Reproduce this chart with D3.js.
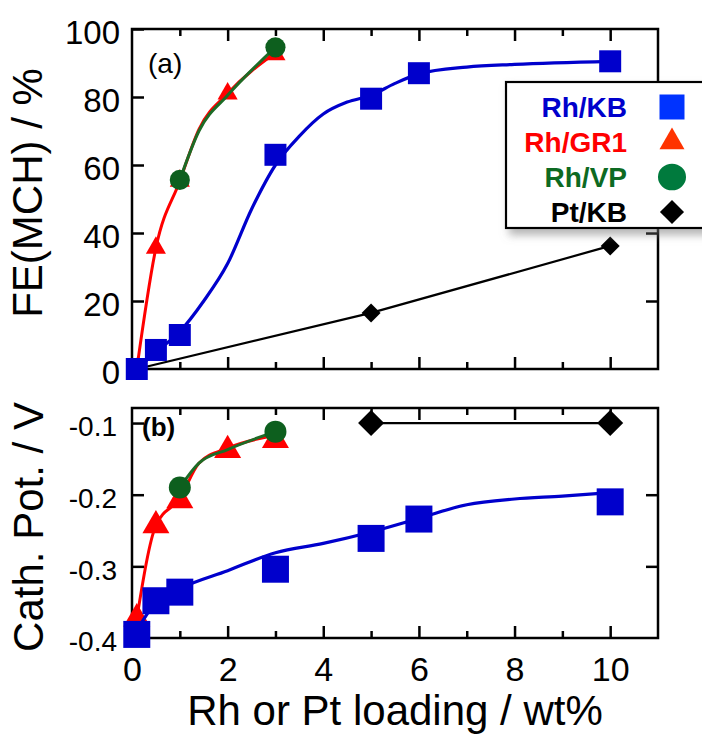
<!DOCTYPE html>
<html>
<head>
<meta charset="utf-8">
<script src="https://cdn.jsdelivr.net/npm/d3@7"></script>
<style>
  body { margin: 0; background: #fff; }
  svg { display: block; }
</style>
</head>
<body>
<div id="chart"></div>
<script>
// ---- data ----
// Rh/KB
var kbX = [0.1, 0.5, 1, 3, 5, 6, 10];
var kbFE = [0, 5.6, 10, 63, 79.5, 87, 90.5];
var kbPot = [-0.395, -0.348, -0.336, -0.304, -0.261, -0.234, -0.21];
// Rh/GR1
var gr1X = [0.1, 0.5, 1, 2, 3];
var gr1FE = [0, 35.6, 55.3, 81, 92.5];
var gr1Pot = [-0.373, -0.243, -0.208, -0.138, -0.124];
// Rh/VP
var vpX = [1, 3];
var vpFE = [55.6, 94.6];
var vpPot = [-0.19, -0.112];
// Pt/KB
var ptFEX = [0.1, 5, 10];
var ptFE = [0, 16.5, 36.2];
var ptPotX = [5, 10];
var ptPot = [-0.1, -0.1];

// guide curves as drawn in the figure
var kbFitFEX = [0.1, 0.5, 1, 1.5, 2, 2.5, 3, 3.5, 4, 4.5, 5, 5.5, 6, 7, 8, 10];
var kbFitFE = [0, 5, 11, 20, 31, 47, 60, 68.5, 75, 78.5, 80.5, 84, 86.8, 88.8, 89.6, 90.5];
var gr1FitFEX = [0.1, 0.5, 1, 1.4, 2, 3];
var gr1FitFE = [0, 35.6, 55.3, 70.5, 81, 93];
var vpFitFEX = [1, 1.4, 2, 3];
var vpFitFE = [55.6, 70, 80.5, 94.6];
var kbFitPotX = [0.1, 0.5, 1, 2, 3, 4, 5, 6, 7, 8, 9, 10];
var kbFitPot = [-0.39, -0.35, -0.331, -0.306, -0.281, -0.268, -0.252, -0.233, -0.214, -0.206, -0.202, -0.197];
var gr1FitPotX = [0.1, 0.5, 1, 1.4, 2, 3];
var gr1FitPot = [-0.373, -0.243, -0.205, -0.156, -0.135, -0.117];
var vpFitPotX = [1, 1.4, 2, 3];
var vpFitPot = [-0.19, -0.156, -0.137, -0.112];

var xTicksMinor = d3.range(1, 11);
var xTickLabels = [0, 2, 4, 6, 8, 10];
var feTicks = [0, 20, 40, 60, 80, 100];
var potTicks = [-0.1, -0.2, -0.3, -0.4];

var legendNames = ["Rh/KB", "Rh/GR1", "Rh/VP", "Pt/KB"];

var FONT = "Arial, 'Liberation Sans', sans-serif";

var width = 702, height = 734;
var svg = d3.select("#chart").append("svg")
  .attr("width", width)
  .attr("height", height);

var defs = svg.append("defs");
var f = defs.append("filter").attr("id", "shadow")
  .attr("x", "-10%").attr("y", "-10%").attr("width", "130%").attr("height", "140%");
f.append("feDropShadow").attr("dx", 4).attr("dy", 6).attr("stdDeviation", 4)
  .attr("flood-color", "#777").attr("flood-opacity", 0.55);

// shared x scale
var x = d3.scaleLinear().domain([0, 11]).range([132, 658]);

// panel (a)
var yA = d3.scaleLinear().domain([0, 100]).range([369, 29]);
// panel (b)
var yB = d3.scaleLinear().domain([-0.4, -0.079]).range([638, 408]);

function zip(xs, ys) { return xs.map(function(v, i) { return [v, ys[i]]; }); }

function frame(y) {
  var r = y.range();
  var g = svg.append("g");

  // x ticks, inward, top and bottom
  var b = g.append("g").attr("transform", "translate(0," + r[0] + ")")
    .call(d3.axisBottom(x).tickValues(xTicksMinor).tickSize(-12).tickFormat(""));
  b.selectAll(".tick line").filter(function(d) { return d % 2; }).attr("y2", -7);
  var t = g.append("g").attr("transform", "translate(0," + r[1] + ")")
    .call(d3.axisTop(x).tickValues(xTicksMinor).tickSize(-12).tickFormat(""));
  t.selectAll(".tick line").filter(function(d) { return d % 2; }).attr("y2", 7);

  g.selectAll(".domain").remove();
  g.selectAll(".tick line").attr("stroke", "#000").attr("stroke-width", 2.5);
  return g;
}

function plotLine(g, pts, xS, yS, color, w, curve) {
  g.append("path")
    .datum(pts)
    .attr("fill", "none")
    .attr("stroke", color)
    .attr("stroke-width", w)
    .attr("stroke-linejoin", "round")
    .attr("d", d3.line().x(function(d) { return xS(d[0]); }).y(function(d) { return yS(d[1]); }).curve(curve));
}

function plotMarks(g, pts, xS, yS, type, size, color, rot) {
  g.selectAll(null).data(pts).enter().append("path")
    .attr("d", d3.symbol().type(type).size(size))
    .attr("fill", color)
    .attr("transform", function(d) {
      return "translate(" + xS(d[0]) + "," + yS(d[1]) + ")" + (rot ? " rotate(45)" : "");
    });
}

var BLUE = "#0000cc", RED = "#ff0000", GREEN = "#0d5f1e", GREENLINE = "#1d6b26";

// ---------- panel (a) ----------
var gA = frame(yA);
gA.append("g").attr("transform", "translate(132,0)")
  .call(d3.axisLeft(yA).tickValues(feTicks).tickSize(-12).tickPadding(12))
  .call(function(a) {
    a.select(".domain").remove();
    a.selectAll(".tick line").attr("stroke", "#000").attr("stroke-width", 2.5);
    a.selectAll("text").attr("font-size", 33).attr("font-family", FONT).attr("fill", "#000").attr("dy", "0.45em");
  });
gA.append("g").attr("transform", "translate(658,0)")
  .call(d3.axisRight(yA).tickValues([20, 40, 60, 80]).tickSize(-12).tickFormat(""))
  .call(function(a) {
    a.select(".domain").remove();
    a.selectAll(".tick line").attr("stroke", "#000").attr("stroke-width", 2.5);
  });
svg.append("rect").attr("x", 132).attr("y", 29).attr("width", 526).attr("height", 340)
  .attr("fill", "none").attr("stroke", "#000").attr("stroke-width", 2.5);

var pA = svg.append("g");
plotLine(pA, zip(ptFEX, ptFE), x, yA, "#000", 2.2, d3.curveLinear);
plotMarks(pA, zip(ptFEX, ptFE), x, yA, d3.symbolSquare, 180, "#000", true);
plotLine(pA, zip(gr1FitFEX, gr1FitFE), x, yA, RED, 3, d3.curveMonotoneX);
plotMarks(pA, zip(gr1X, gr1FE), x, yA, d3.symbolTriangle, 175, RED);
plotLine(pA, zip(vpFitFEX, vpFitFE), x, yA, GREENLINE, 3, d3.curveMonotoneX);
plotMarks(pA, zip(vpX, vpFE), x, yA, d3.symbolCircle, 320, GREEN);
plotLine(pA, zip(kbFitFEX, kbFitFE), x, yA, BLUE, 3.2, d3.curveMonotoneX);
plotMarks(pA, zip(kbX, kbFE), x, yA, d3.symbolSquare, 484, BLUE);

svg.append("text").attr("x", 148).attr("y", 73)
  .attr("font-family", FONT).attr("font-size", 28).text("(a)");

// ---------- panel (b) ----------
var gB = frame(yB);
gB.append("g").attr("transform", "translate(132,0)")
  .call(d3.axisLeft(yB).tickValues(potTicks).tickSize(-12).tickPadding(15).tickFormat(d3.format(".1f")))
  .call(function(a) {
    a.select(".domain").remove();
    a.selectAll(".tick line").attr("stroke", "#000").attr("stroke-width", 2.5);
    a.selectAll("text").attr("font-size", 28).attr("font-family", FONT).attr("fill", "#000").attr("dy", "0.46em")
      .text(function(d) { return d3.format(".1f")(d).replace("\u2212", "-"); });
  });
gB.append("g").attr("transform", "translate(658,0)")
  .call(d3.axisRight(yB).tickValues([-0.2, -0.3]).tickSize(-12).tickFormat(""))
  .call(function(a) {
    a.select(".domain").remove();
    a.selectAll(".tick line").attr("stroke", "#000").attr("stroke-width", 2.5);
  });
gB.append("g").attr("transform", "translate(0,638)")
  .call(d3.axisBottom(x).tickValues(xTickLabels).tickSize(0).tickPadding(19))
  .call(function(a) {
    a.select(".domain").remove();
    a.selectAll("text").attr("font-size", 34).attr("font-family", FONT).attr("fill", "#000");
  });
svg.append("rect").attr("x", 132).attr("y", 408).attr("width", 526).attr("height", 230)
  .attr("fill", "none").attr("stroke", "#000").attr("stroke-width", 2.5);

var pB = svg.append("g");
plotLine(pB, zip(ptPotX, ptPot), x, yB, "#000", 2.2, d3.curveLinear);
plotMarks(pB, zip(ptPotX, ptPot), x, yB, d3.symbolSquare, 340, "#000", true);
plotLine(pB, zip(gr1FitPotX, gr1FitPot), x, yB, RED, 3, d3.curveMonotoneX);
plotMarks(pB, zip(gr1X, gr1Pot), x, yB, d3.symbolTriangle, 316, RED);
plotLine(pB, zip(vpFitPotX, vpFitPot), x, yB, GREENLINE, 3, d3.curveMonotoneX);
plotMarks(pB, zip(vpX, vpPot), x, yB, d3.symbolCircle, 380, GREEN);
plotLine(pB, zip(kbFitPotX, kbFitPot), x, yB, BLUE, 3.2, d3.curveMonotoneX);
plotMarks(pB, zip(kbX, kbPot), x, yB, d3.symbolSquare, 729, BLUE);

svg.append("text").attr("x", 142).attr("y", 436)
  .attr("font-family", FONT).attr("font-weight", "bold").attr("font-size", 26).text("(b)");

// ---------- axis titles ----------
svg.append("text")
  .attr("transform", "translate(42,193) rotate(-90)")
  .attr("text-anchor", "middle").attr("font-family", FONT).attr("font-size", 42)
  .text("FE(MCH) / %");
svg.append("text")
  .attr("transform", "translate(43,527) rotate(-90)")
  .attr("text-anchor", "middle").attr("font-family", FONT).attr("font-size", 42)
  .text("Cath. Pot. / V");
svg.append("text")
  .attr("x", 395).attr("y", 725)
  .attr("text-anchor", "middle").attr("font-family", FONT).attr("font-size", 42)
  .text("Rh or Pt loading / wt%");

// ---------- legend ----------
var legTextColors = [BLUE, RED, "#0d6a22", "#000"];
var legMarkColors = ["#0033ff", "#ff3300", "#007a3d", "#000"];
var legSymbols = [d3.symbolSquare, d3.symbolTriangle, d3.symbolCircle, d3.symbolSquare];
var legSizes = [625, 270, 560, 290];

var leg = svg.append("g");
leg.append("rect").attr("x", 506).attr("y", 82).attr("width", 260).attr("height", 146)
  .attr("fill", "#fff").attr("stroke", "#000").attr("stroke-width", 2.2)
  .attr("filter", "url(#shadow)");
var rows = leg.selectAll(".row").data(legendNames).enter().append("g")
  .attr("transform", function(d, i) { return "translate(0," + (107 + i * 35) + ")"; });
rows.append("text")
  .attr("x", 627).attr("y", 10)
  .attr("text-anchor", "end").attr("font-family", FONT).attr("font-weight", "bold").attr("font-size", 28)
  .attr("fill", function(d, i) { return legTextColors[i]; })
  .text(function(d) { return d; });
rows.append("path")
  .attr("d", function(d, i) { return d3.symbol().type(legSymbols[i]).size(legSizes[i])(); })
  .attr("fill", function(d, i) { return legMarkColors[i]; })
  .attr("transform", function(d, i) { return "translate(672,0)" + (i === 3 ? " rotate(45)" : "") + (i === 2 ? " scale(1.05,1)" : ""); });
</script>
</body>
</html>
